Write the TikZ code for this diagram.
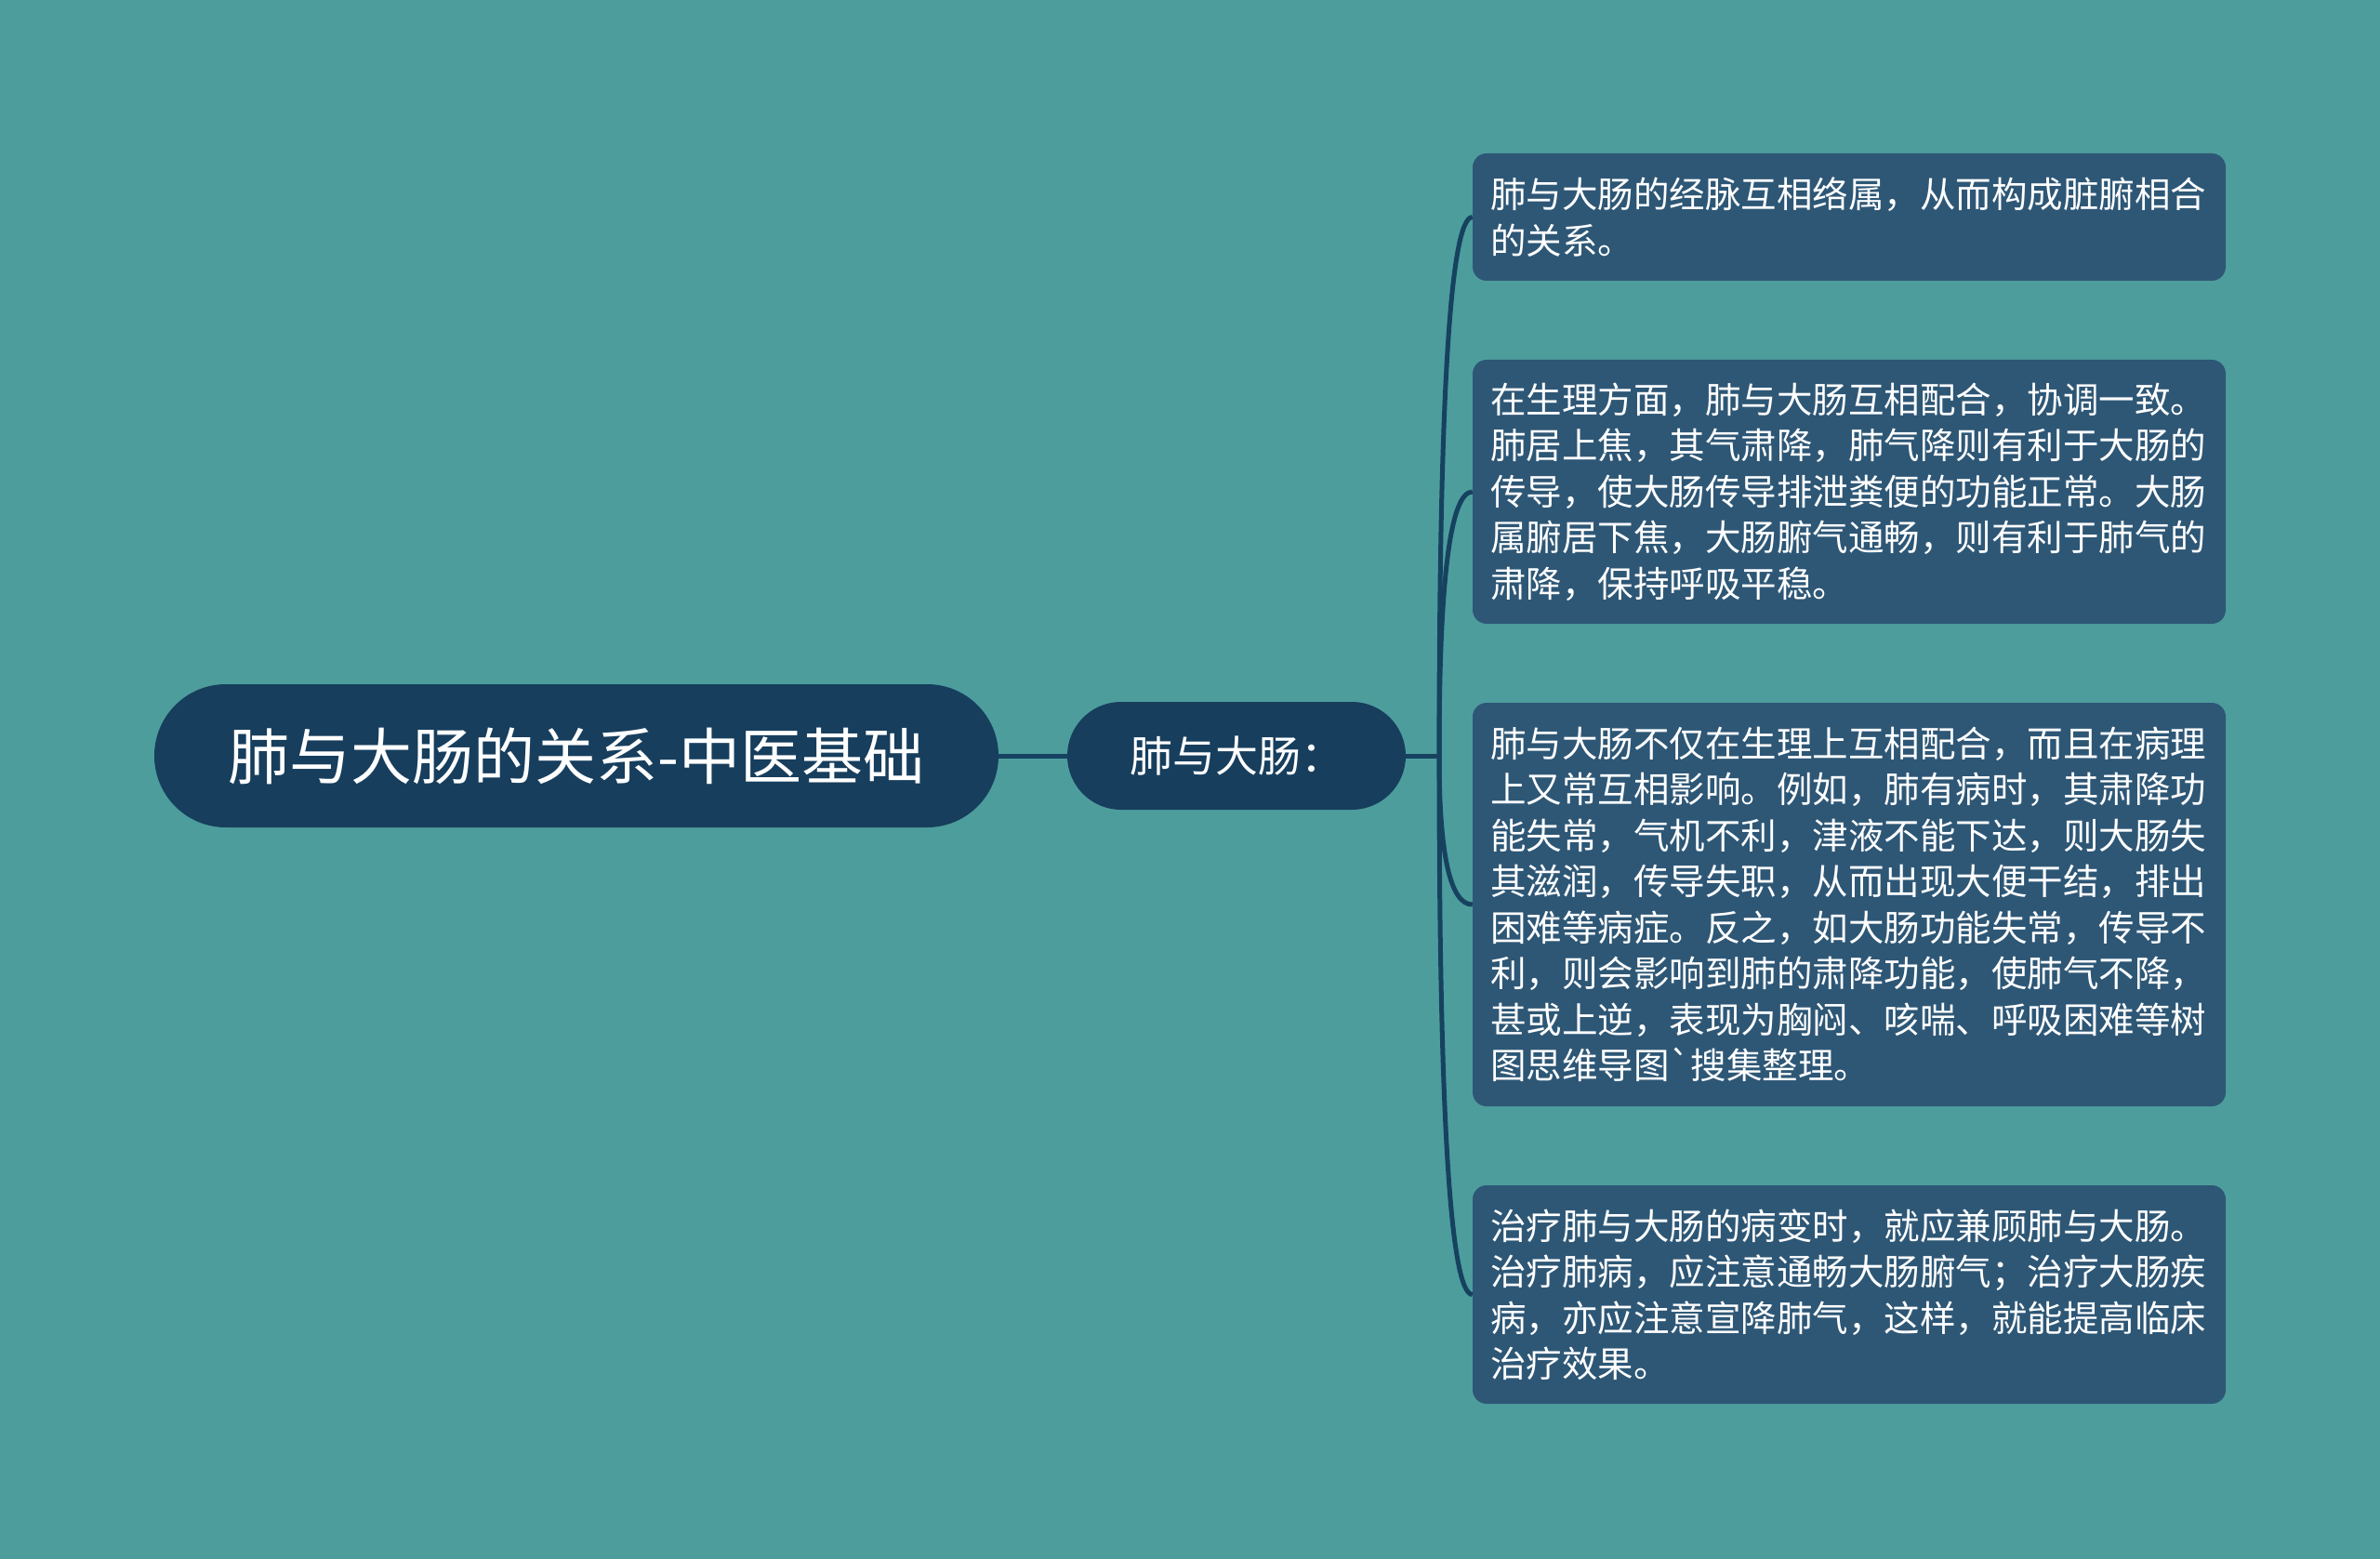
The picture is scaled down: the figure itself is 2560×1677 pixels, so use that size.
\documentclass[tikz,border=0pt]{standalone}
\usepackage{fontspec}
\setmainfont{Noto Sans CJK SC}[Ligatures=TeXOff]
\usetikzlibrary{calc}
\definecolor{bgc}{HTML}{4D9D9D}
\definecolor{rootc}{HTML}{173E5D}
\definecolor{leafc}{HTML}{2E5776}
\definecolor{linec}{HTML}{16425F}
\begin{document}
\begin{tikzpicture}[x=1pt,y=-1pt,
  rootbox/.style={fill=rootc, rounded corners=76.9pt, minimum width=908pt, minimum height=154pt, inner sep=0pt, text=white, font=\fontsize{66}{80}\selectfont},
  subbox/.style={fill=rootc, rounded corners=57.9pt, minimum width=364pt, minimum height=116pt, inner sep=0pt, text=white, font=\fontsize{46}{56}\selectfont},
  leafbox/.style={fill=leafc, rounded corners=15pt, text width=772pt, inner xsep=19pt, inner ysep=0pt, align=left, text=white, font=\fontsize{38.5}{49.5}\selectfont},
  conn/.style={draw=linec, line width=5pt}
]
\fill[bgc] (0,0) rectangle (2560,1677);
\useasboundingbox (0,0) rectangle (2560,1677);

\node[rootbox] (root) at (620,813) {肺与大肠的关系-中医基础};
\node[subbox] (sub) at (1330,813) {肺与大肠：};
\coordinate (T) at (1548,813);

\node[leafbox, minimum height=137pt] (b1) at (1989,233.5) {肺与大肠的经脉互相络属，从而构成脏腑相合\\的关系。};
\node[leafbox, minimum height=284pt] (b2) at (1989,529) {在生理方面，肺与大肠互相配合，协调一致。\\肺居上焦，其气肃降，肺气降则有利于大肠的\\传导，使大肠传导排泄粪便的功能正常。大肠\\属腑居下焦，大肠腑气通畅，则有利于肺气的\\肃降，保持呼吸平稳。};
\node[leafbox, minimum height=434pt] (b3) at (1989,973) {肺与大肠不仅在生理上互相配合，而且在病理\\上又常互相影响。例如，肺有病时，其肃降功\\能失常，气机不利，津液不能下达，则大肠失\\其滋润，传导失职，从而出现大便干结，排出\\困难等病症。反之，如大肠功能失常，传导不\\利，则会影响到肺的肃降功能，使肺气不降，\\甚或上逆，表现为胸闷、咳喘、呼吸困难等树\\图思维导图`搜集整理。};
\node[leafbox, minimum height=235pt] (b4) at (1989,1392.5) {治疗肺与大肠的病变时，就应兼顾肺与大肠。\\治疗肺病，应注意通畅大肠腑气；治疗大肠疾\\病，亦应注意宣降肺气，这样，就能提高临床\\治疗效果。};

\draw[conn] (root.east) -- (sub.west);
\draw[conn] (sub.east) -- (T);
\foreach \b in {b1,b2,b3,b4}{
  \draw[conn] (T) .. controls ($(T)!0.667!(T|-\b.west)$) and ($(\b.west)!0.667!(T|-\b.west)$) .. (\b.west);
}
\end{tikzpicture}
\end{document}
